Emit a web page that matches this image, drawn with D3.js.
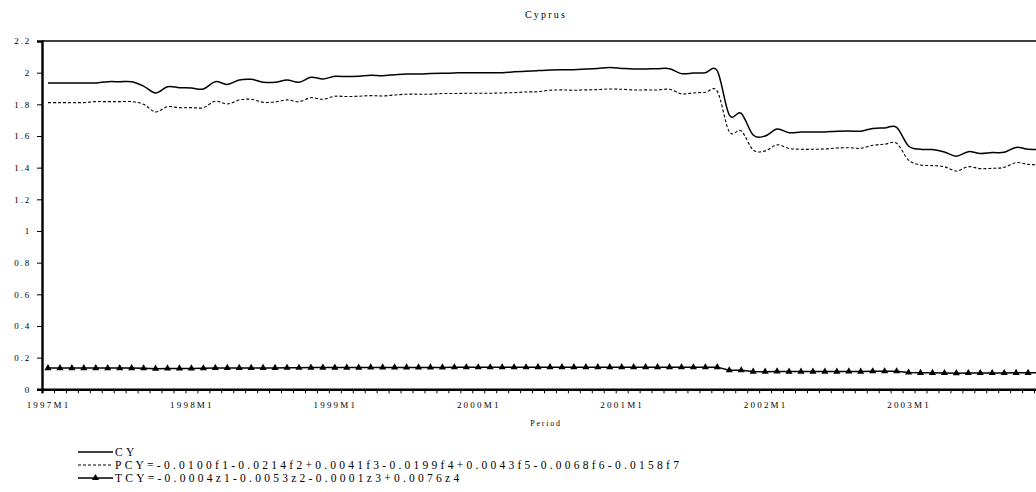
<!DOCTYPE html>
<html><head><meta charset="utf-8">
<script src="https://cdn.jsdelivr.net/npm/d3@7"></script>
<style>
body{margin:0;background:#fff;}
svg{display:block;font-family:"Liberation Serif","Times New Roman",serif;}
</style></head>
<body>
<svg id="chart" width="1036" height="492"></svg>
<script>
// ---- data ----
const years = [1997,1998,1999,2000,2001,2002,2003];
const categories = [];
years.forEach(yr => { for (let m = 1; m <= 12; m++) categories.push(yr + "M" + m); });
const tickLabels = ["1997M1","1998M1","1999M1","2000M1","2001M1","2002M1","2003M1"];
const yTicks = [0,0.2,0.4,0.6,0.8,1,1.2,1.4,1.6,1.8,2,2.2];

const cyValues = [
 1.935,1.935,1.935,1.935,1.935,1.943,1.943,1.943,1.915,1.872,1.911,1.905,
 1.903,1.897,1.943,1.926,1.954,1.958,1.940,1.939,1.954,1.939,1.971,1.960,
 1.977,1.975,1.977,1.983,1.981,1.987,1.992,1.992,1.994,1.996,1.998,2.000,
 2.000,2.000,2.000,2.005,2.009,2.013,2.017,2.019,2.019,2.023,2.027,2.032,
 2.027,2.023,2.023,2.025,2.025,1.994,1.998,2.000,2.011,1.733,1.743,1.606,
 1.600,1.644,1.621,1.625,1.625,1.625,1.630,1.632,1.630,1.648,1.651,1.655,
 1.537,1.516,1.514,1.499,1.472,1.501,1.489,1.495,1.497,1.528,1.516,1.516];
const pcyValues = [
 1.811,1.811,1.811,1.811,1.817,1.817,1.817,1.817,1.800,1.752,1.785,1.779,
 1.779,1.779,1.819,1.802,1.827,1.832,1.813,1.815,1.828,1.817,1.842,1.832,
 1.851,1.849,1.851,1.855,1.853,1.859,1.864,1.864,1.864,1.868,1.868,1.870,
 1.870,1.870,1.872,1.874,1.878,1.880,1.889,1.891,1.889,1.891,1.893,1.897,
 1.895,1.891,1.891,1.891,1.895,1.866,1.872,1.876,1.882,1.627,1.632,1.512,
 1.506,1.544,1.521,1.516,1.516,1.518,1.524,1.526,1.522,1.541,1.548,1.554,
 1.448,1.417,1.413,1.406,1.379,1.406,1.394,1.396,1.402,1.432,1.421,1.417];
const tcyValues = [
 0.134,0.134,0.134,0.134,0.134,0.134,0.134,0.134,0.133,0.130,0.132,0.132,
 0.132,0.133,0.135,0.135,0.135,0.135,0.135,0.135,0.136,0.136,0.137,0.137,
 0.137,0.137,0.137,0.138,0.138,0.138,0.138,0.138,0.138,0.138,0.139,0.139,
 0.139,0.139,0.139,0.139,0.139,0.140,0.140,0.140,0.140,0.140,0.140,0.140,
 0.140,0.140,0.140,0.140,0.140,0.139,0.139,0.139,0.140,0.120,0.120,0.112,
 0.111,0.113,0.112,0.112,0.112,0.112,0.112,0.113,0.112,0.114,0.114,0.114,
 0.106,0.104,0.104,0.103,0.102,0.103,0.103,0.103,0.103,0.104,0.104,0.104];
const legendLabels = [
 "CY",
 "PCY=-0.0100f1-0.0214f2+0.0041f3-0.0199f4+0.0043f5-0.0068f6-0.0158f7",
 "TCY=-0.0004z1-0.0053z2-0.0001z3+0.0076z4"];

// ---- layout ----
const svg = d3.select("#chart");
const plotL = 42, plotR = 1046, plotT = 41, plotB = 389.3;

const x = d3.scalePoint().domain(categories).range([plotL, plotR]).padding(0.5);
const xEdge = d3.scaleLinear().domain([0, categories.length]).range([plotL, plotR]);
const y = d3.scaleLinear().domain([0, 2.2]).range([plotB, plotT]);

// title
svg.append("text").attr("x", 546).attr("y", 18).attr("text-anchor","middle")
  .attr("font-size", 10).attr("letter-spacing", 2.2).text("Cyprus");

// plot border (top)
svg.append("line").attr("x1", plotL).attr("x2", plotR).attr("y1", plotT).attr("y2", plotT)
  .attr("stroke","#000").attr("stroke-width",1.6);

// y axis
const yAxis = svg.append("g").attr("transform",`translate(${plotL},0)`)
  .call(d3.axisLeft(y).tickValues(yTicks).tickSize(5).tickPadding(6)
        .tickFormat(d => String(+d.toFixed(1))));
yAxis.select(".domain").attr("stroke-width",2.4);
yAxis.selectAll("text").attr("font-size",9).attr("letter-spacing",1.8)
  .attr("font-family",'"Liberation Serif",serif').attr("fill","#000");

// x axis ticks at category boundaries
const xTickAxis = svg.append("g").attr("transform",`translate(0,${plotB})`)
  .call(d3.axisBottom(xEdge).tickValues(d3.range(categories.length + 1)).tickSize(4).tickFormat(""));
xTickAxis.select(".domain").attr("stroke-width",2.4);
// x labels
const xLab = svg.append("g").attr("transform",`translate(0,${plotB})`)
  .call(d3.axisBottom(x).tickValues(tickLabels).tickSize(0).tickPadding(12));
xLab.select(".domain").remove();
xLab.selectAll("text").attr("font-size",9).attr("letter-spacing",2.2)
  .attr("font-family",'"Liberation Serif",serif').attr("fill","#000");

svg.append("text").attr("x", 546).attr("y", 426).attr("text-anchor","middle")
  .attr("font-size", 8).attr("letter-spacing", 1.8).text("Period");

// lines
const lineSmooth = d3.line().x((d,i) => x(categories[i])).y(d => y(d)).curve(d3.curveCardinal.tension(0));
const lineStraight = d3.line().x((d,i) => x(categories[i])).y(d => y(d));

svg.append("path").datum(cyValues).attr("d", lineSmooth)
  .attr("fill","none").attr("stroke","#000").attr("stroke-width",1.5);
svg.append("path").datum(pcyValues).attr("d", lineSmooth)
  .attr("fill","none").attr("stroke","#000").attr("stroke-width",1.1).attr("stroke-dasharray","3,2");
svg.append("path").datum(tcyValues).attr("d", lineStraight)
  .attr("fill","none").attr("stroke","#000").attr("stroke-width",1.5);
const tri = d3.symbol().type(d3.symbolTriangle).size(22);
svg.append("g").selectAll("path").data(tcyValues).join("path")
  .attr("d", tri).attr("fill","#000")
  .attr("transform",(d,i) => `translate(${x(categories[i])},${y(d)})`);

// legend
const leg = svg.append("g");
const legY = [452, 465, 478];
legendLabels.forEach((lab,k) => {
  const g = leg.append("g").attr("transform",`translate(0,${legY[k]})`);
  const ln = g.append("line").attr("x1",78).attr("x2",113).attr("y1",0).attr("y2",0)
    .attr("stroke","#000").attr("stroke-width", k===1 ? 1 : 1.5);
  if (k===1) ln.attr("stroke-dasharray","3,2");
  if (k===2) g.append("path").attr("d",tri).attr("transform","translate(95.5,0)");
  g.append("text").attr("x",115).attr("y",4).attr("font-size",11.5)
    .attr("letter-spacing",3.25).text(lab);
});
</script>
</body></html>
